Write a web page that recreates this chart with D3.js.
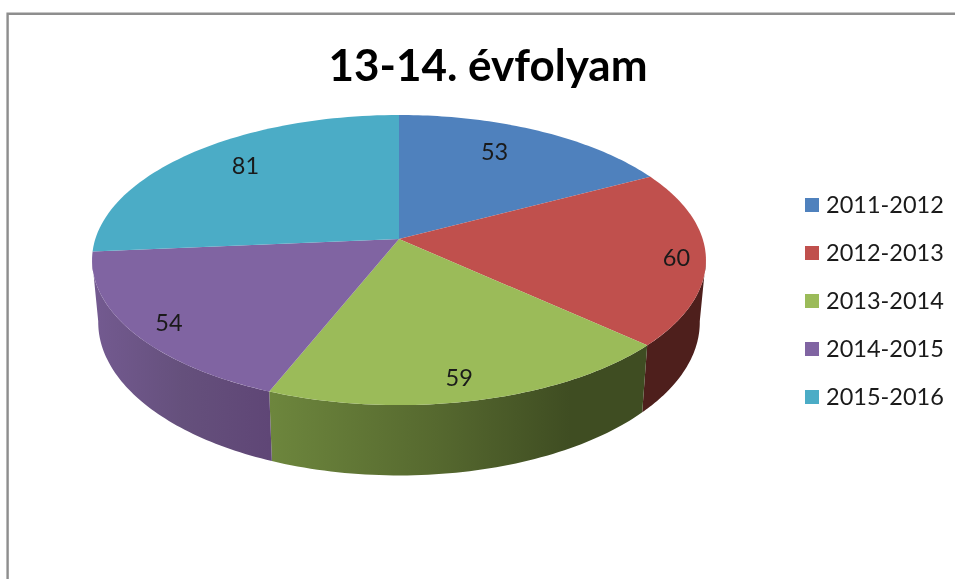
<!DOCTYPE html>
<html>
<head>
<meta charset="utf-8">
<style>
  body { margin: 0; background: #fff; }
  svg { display: block; filter: blur(0.4px); }
  text { font-family: Lato, 'Open Sans', sans-serif; fill: #1a1a1a; }
</style>
</head>
<body>
<div id="chart"></div>
<script src="https://cdn.jsdelivr.net/npm/d3@7"></script>
<script>
const title = '13-14. évfolyam'
const years = ['2011-2012', '2012-2013', '2013-2014', '2014-2015', '2015-2016']
const counts = [53, 60, 59, 54, 81]
const colors = ['#4f81bd', '#c0504d', '#9bbb59', '#8064a2', '#4bacc6']

let width = 955
let height = 579

let svg = d3.select('#chart')
  .append('svg')
  .attr('width', width)
  .attr('height', height)

// perspective of the tilted disc, fitted to the picture
let cx = 399
let topY = 239
let bottomY = 300
let k = 0.145

function project(angle, r, lower) {
  let x = r * Math.sin(angle)
  let y = r * Math.cos(angle)
  let d = 1 + k * y
  return lower
    ? [cx + 297.6 * x / d, bottomY - 150 * y / d]
    : [cx + 303.7 * x / d, topY - 142 * y / d]
}

let pie = d3.pie().sort(null)
let slices = pie(counts).map((d, i) => ({ ...d, i }))
let line = d3.line()

function arcAngles(a0, a1) {
  return d3.range(0, 61).map(n => a0 + (a1 - a0) * n / 60)
}

// gradients on the side wall, lit from the left
let defs = svg.append('defs')
let wallStops = [
  [[0, '#735a90'], [0.5, '#65507c'], [1, '#5f4676']],
  [[0, '#6d863d'], [0.55, '#56692f'], [1, '#3f4d22']]
]
let wallRanges = [[95, 270], [270, 570]]
wallStops.forEach((stops, n) => {
  let g = defs.append('linearGradient')
    .attr('id', 'wall' + n)
    .attr('gradientUnits', 'userSpaceOnUse')
    .attr('x1', wallRanges[n][0])
    .attr('x2', wallRanges[n][1])
    .attr('y1', 0)
    .attr('y2', 0)
  stops.forEach(s => {
    g.append('stop').attr('offset', s[0]).attr('stop-color', s[1])
  })
})
let wallFill = { 1: '#4e1f1c', 2: 'url(#wall1)', 3: 'url(#wall0)' }

let visibleStart = 98 * Math.PI / 180
let visibleEnd = 262 * Math.PI / 180

svg.append('g')
  .selectAll('path')
  .data(slices.filter(d => wallFill[d.i]))
  .enter()
  .append('path')
  .attr('d', d => {
    let angles = arcAngles(Math.max(d.startAngle, visibleStart), Math.min(d.endAngle, visibleEnd))
    let upper = angles.map(a => project(a, 1, false))
    let lower = angles.slice().reverse().map(a => project(a, 1, true))
    return line(upper.concat(lower)) + 'Z'
  })
  .attr('fill', d => wallFill[d.i])

svg.append('g')
  .selectAll('path')
  .data(slices)
  .enter()
  .append('path')
  .attr('d', d => {
    let rim = arcAngles(d.startAngle, d.endAngle).map(a => project(a, 1, false))
    return line([project(0, 0, false)].concat(rim)) + 'Z'
  })
  .attr('fill', d => colors[d.i])

// labels sit on a ring, nudged by hand the way the original was
let labelNudge = [[-8, -7], [8, 2], [-8, -1], [2, 3], [-3, -9]]

svg.append('g')
  .selectAll('text')
  .data(slices)
  .enter()
  .append('text')
  .attr('transform', d => {
    let mid = (d.startAngle + d.endAngle) / 2
    let r = Math.cos(mid) > 0 ? 0.72 : 0.88
    let p = project(mid, r, false)
    return `translate(${p[0] + labelNudge[d.i][0]},${p[1] + labelNudge[d.i][1]})`
  })
  .attr('text-anchor', 'middle')
  .attr('dy', '0.36em')
  .attr('font-size', 23.5)
  .text(d => d.data)

svg.append('text')
  .attr('x', 488)
  .attr('y', 81)
  .attr('text-anchor', 'middle')
  .attr('font-size', 44)
  .attr('font-weight', 700)
  .style('fill', '#000')
  .text(title)

// legend
let legendY = d3.scalePoint()
  .domain(years)
  .range([205, 397])

let legend = svg.append('g')
  .selectAll('g')
  .data(years)
  .enter()
  .append('g')
  .attr('transform', d => `translate(0,${legendY(d)})`)

legend.append('rect')
  .attr('x', 805)
  .attr('y', -7)
  .attr('width', 14)
  .attr('height', 14)
  .attr('fill', (d, i) => colors[i])

legend.append('text')
  .attr('x', 826)
  .attr('dy', '0.36em')
  .attr('font-size', 23.5)
  .text(d => d)

// frame of the sheet, open on the right and at the bottom
svg.append('path')
  .attr('d', `M7.6,${height}V13.8H${width}`)
  .attr('fill', 'none')
  .attr('stroke', '#8e8e8e')
  .attr('stroke-width', 2.4)
</script>
</body>
</html>
